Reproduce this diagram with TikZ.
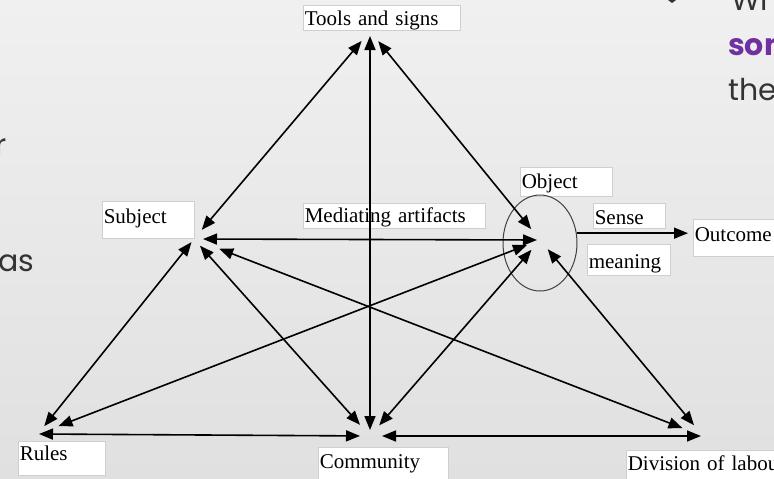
\documentclass[tikz,border=0pt]{standalone}
\usepackage{fontspec}
\usetikzlibrary{arrows.meta,shapes.geometric,calc}
\newfontfamily\diagfont{Liberation Serif}
\newfontfamily\slidefont{Poppins}
\definecolor{bgtop}{HTML}{F0F0F0}
\definecolor{bgbot}{HTML}{E0E0E0}
\definecolor{slidetext}{HTML}{333333}
\definecolor{slidepurple}{HTML}{7030A0}
\definecolor{boxline}{HTML}{CFCFCF}
\begin{document}
\begin{tikzpicture}[x=1pt,y=-1pt,
  lbl/.style={draw=boxline, line width=0.6pt, fill=white, inner xsep=1.5pt, inner ysep=0pt,
    anchor=north west, align=left, font=\diagfont\fontsize{21}{21}\selectfont},
  link/.style={line width=1.6pt, {Triangle[length=14pt,width=11pt]}-{Triangle[length=14pt,width=11pt]}},
  oneway/.style={line width=1.6pt, -{Triangle[length=14pt,width=11pt]}},
  frag/.style={font=\slidefont\fontsize{30}{30}\selectfont, text=slidetext, inner sep=0pt, anchor=base west}]
\clip (0,0) rectangle (774,479);
\shade[top color=bgtop, bottom color=bgbot] (0,0) rectangle (774,479);

% slide text fragments
\node[frag] (fr) at (-5,155) {r};
\node[frag] (fas) at (-2,271) {as};
\node[frag] (fw) at (731,10) {Wh};
\node[frag, font=\slidefont\bfseries\fontsize{30}{30}\selectfont, text=slidepurple] (fso) at (728,55) {some};
\node[frag] (fth) at (728,100) {the};
\fill[slidetext] (668,0) -- (676,0) -- (672,3) -- cycle;

% label boxes
\node[lbl, text width=154pt, text height=20pt, text depth=5pt] (tools) at (303,5) {Tools and signs};
\node[lbl, text width=89pt, text height=22pt, text depth=15pt] (subject) at (102,201) {Subject};
\node[lbl, text width=179pt, text height=19pt, text depth=6pt] (mediating) at (303,203) {Mediating artifacts};
\node[lbl, text width=89pt, text height=21pt, text depth=8pt] (object) at (520,167) {Object};
\node[lbl, text width=69pt, text height=21pt, text depth=4pt] (sense) at (593,203) {Sense};
\node[lbl, text width=80pt, text height=24pt, text depth=7pt] (meaning) at (587,244) {meaning};
\node[lbl, text width=90pt, text height=22pt, text depth=15pt] (outcome) at (693,219) {Outcome};
\node[lbl, text width=84pt, text height=19pt, text depth=15pt] (rules) at (18,441) {Rules};
\node[lbl, text width=127pt, text height=21pt, text depth=14pt] (community) at (318,447) {Community};
\node[lbl, text width=170pt, text height=20pt, text depth=12pt] (division) at (626,450) {Division of labour};

% object ellipse
\node[draw=black!75, line width=1pt, ellipse, minimum width=74pt, minimum height=96pt, inner sep=0pt] (ell) at (540,243) {};

% vertices
\coordinate (T) at (370,31);
\coordinate (S) at (194,239);
\coordinate (O) at (540,240);
\coordinate (R) at (38,434);
\coordinate (C) at (370,436);
\coordinate (D) at (703,436);

% connectors
\draw[link, shorten <=13pt, shorten >=12pt] (T) -- (S);
\draw[link, shorten <=5pt, shorten >=6pt] (T) -- (C);
\draw[link, shorten <=13pt, shorten >=14pt] (T) -- (O);
\draw[link, shorten <=9pt, shorten >=3pt] (S) -- (O);
\draw[link, shorten <=4pt, shorten >=10pt] (S) -- (R);
\draw[link, shorten <=9pt, shorten >=15pt] (S) -- (C);
\draw[link, shorten <=27pt, shorten >=22pt] (S) -- (D);
\draw[link, shorten <=14pt, shorten >=22pt] (O) -- (R);
\draw[link, shorten <=13pt, shorten >=14pt] (O) -- (C);
\draw[link, shorten <=12pt, shorten >=14pt] (O) -- (D);
\draw[link, shorten <=1pt, shorten >=10pt] (R) -- (C);
\draw[link, shorten <=12pt, shorten >=2pt] (C) -- (D);
\draw[oneway, shorten >=5pt] (ell.15) -- (ell.15 -| outcome.west);
\end{tikzpicture}
\end{document}
